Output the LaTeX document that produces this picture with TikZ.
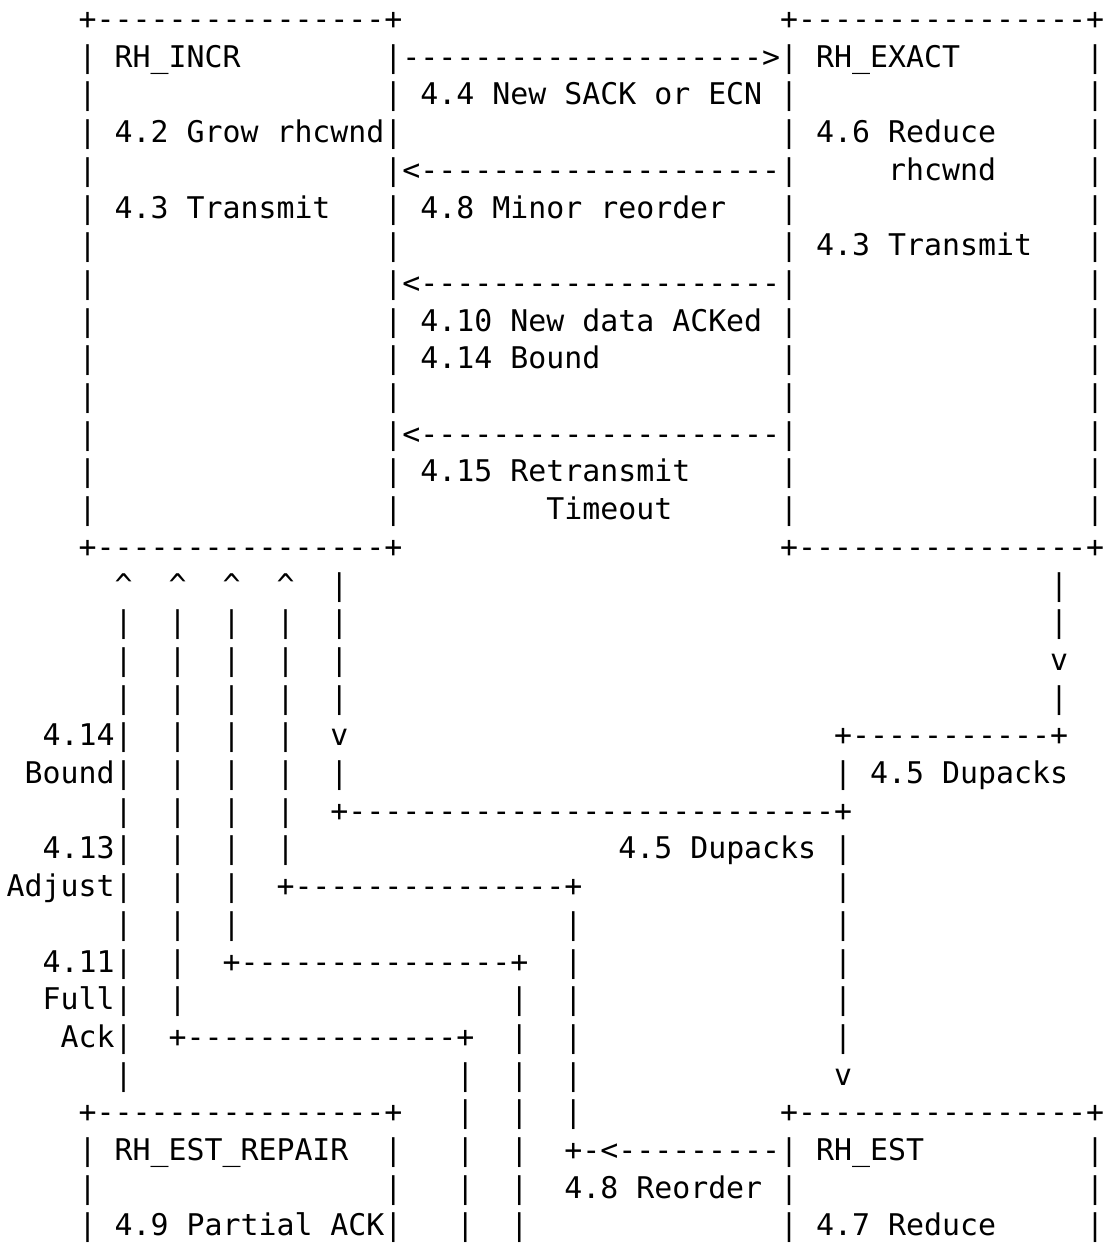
\documentclass[tikz,border=0pt]{standalone}
\usepackage{fontspec}
\setmonofont{DejaVu Sans Mono}
\ExplSyntaxOn
\cs_new:Npn \myrep #1#2 { \prg_replicate:nn {#1} {#2} }
\ExplSyntaxOff
\newcommand\blank[1]{\myrep{#1}{~}}
\newcommand\dsh[1]{\myrep{#1}{-}}
\newcommand\crt{\textasciicircum}
\tikzset{
  asciirow/.style={anchor=base west, inner sep=0pt, outer sep=0pt,
    font=\ttfamily\fontsize{14.94pt}{18pt}\selectfont, text=black}
}
\newcommand\rowtxt[2]{\node[asciirow] (r#1) at (6.7,{29.5+(#1-1)*37.7}) {#2};}
\begin{document}
\begin{tikzpicture}[x=0.5pt,y=-0.5pt]
\fill[white] (0,0) rectangle (1104,1243);
\useasboundingbox (0,0) rectangle (1104,1243);
\rowtxt{1}{\blank{4}+\dsh{16}+\blank{21}+\dsh{16}+}
\rowtxt{2}{\blank{4}|~RH\_INCR\blank{8}|\dsh{20}>|~RH\_EXACT\blank{7}|}
\rowtxt{3}{\blank{4}|\blank{16}|~4.4~New~SACK~or~ECN~|\blank{16}|}
\rowtxt{4}{\blank{4}|~4.2~Grow~rhcwnd|\blank{21}|~4.6~Reduce\blank{5}|}
\rowtxt{5}{\blank{4}|\blank{16}|<\dsh{20}|\blank{5}rhcwnd\blank{5}|}
\rowtxt{6}{\blank{4}|~4.3~Transmit\blank{3}|~4.8~Minor~reorder\blank{3}|\blank{16}|}
\rowtxt{7}{\blank{4}|\blank{16}|\blank{21}|~4.3~Transmit\blank{3}|}
\rowtxt{8}{\blank{4}|\blank{16}|<\dsh{20}|\blank{16}|}
\rowtxt{9}{\blank{4}|\blank{16}|~4.10~New~data~ACKed~|\blank{16}|}
\rowtxt{10}{\blank{4}|\blank{16}|~4.14~Bound\blank{10}|\blank{16}|}
\rowtxt{11}{\blank{4}|\blank{16}|\blank{21}|\blank{16}|}
\rowtxt{12}{\blank{4}|\blank{16}|<\dsh{20}|\blank{16}|}
\rowtxt{13}{\blank{4}|\blank{16}|~4.15~Retransmit\blank{5}|\blank{16}|}
\rowtxt{14}{\blank{4}|\blank{16}|\blank{8}Timeout\blank{6}|\blank{16}|}
\rowtxt{15}{\blank{4}+\dsh{16}+\blank{21}+\dsh{16}+}
\rowtxt{16}{\blank{6}\crt\blank{2}\crt\blank{2}\crt\blank{2}\crt\blank{2}|\blank{39}|}
\rowtxt{17}{\blank{6}|\blank{2}|\blank{2}|\blank{2}|\blank{2}|\blank{39}|}
\rowtxt{18}{\blank{6}|\blank{2}|\blank{2}|\blank{2}|\blank{2}|\blank{39}v}
\rowtxt{19}{\blank{6}|\blank{2}|\blank{2}|\blank{2}|\blank{2}|\blank{39}|}
\rowtxt{20}{\blank{2}4.14|\blank{2}|\blank{2}|\blank{2}|\blank{2}v\blank{27}+\dsh{11}+}
\rowtxt{21}{~Bound|\blank{2}|\blank{2}|\blank{2}|\blank{2}|\blank{27}|~4.5~Dupacks}
\rowtxt{22}{\blank{6}|\blank{2}|\blank{2}|\blank{2}|\blank{2}+\dsh{27}+}
\rowtxt{23}{\blank{2}4.13|\blank{2}|\blank{2}|\blank{2}|\blank{18}4.5~Dupacks~|}
\rowtxt{24}{Adjust|\blank{2}|\blank{2}|\blank{2}+\dsh{15}+\blank{14}|}
\rowtxt{25}{\blank{6}|\blank{2}|\blank{2}|\blank{18}|\blank{14}|}
\rowtxt{26}{\blank{2}4.11|\blank{2}|\blank{2}+\dsh{15}+\blank{2}|\blank{14}|}
\rowtxt{27}{\blank{2}Full|\blank{2}|\blank{18}|\blank{2}|\blank{14}|}
\rowtxt{28}{\blank{3}Ack|\blank{2}+\dsh{15}+\blank{2}|\blank{2}|\blank{14}|}
\rowtxt{29}{\blank{6}|\blank{18}|\blank{2}|\blank{2}|\blank{14}v}
\rowtxt{30}{\blank{4}+\dsh{16}+\blank{3}|\blank{2}|\blank{2}|\blank{11}+\dsh{16}+}
\rowtxt{31}{\blank{4}|~RH\_EST\_REPAIR\blank{2}|\blank{3}|\blank{2}|\blank{2}+-<\dsh{9}|~RH\_EST\blank{9}|}
\rowtxt{32}{\blank{4}|\blank{16}|\blank{3}|\blank{2}|\blank{2}4.8~Reorder~|\blank{16}|}
\rowtxt{33}{\blank{4}|~4.9~Partial~ACK|\blank{3}|\blank{2}|\blank{14}|~4.7~Reduce\blank{5}|}
\end{tikzpicture}
\end{document}
